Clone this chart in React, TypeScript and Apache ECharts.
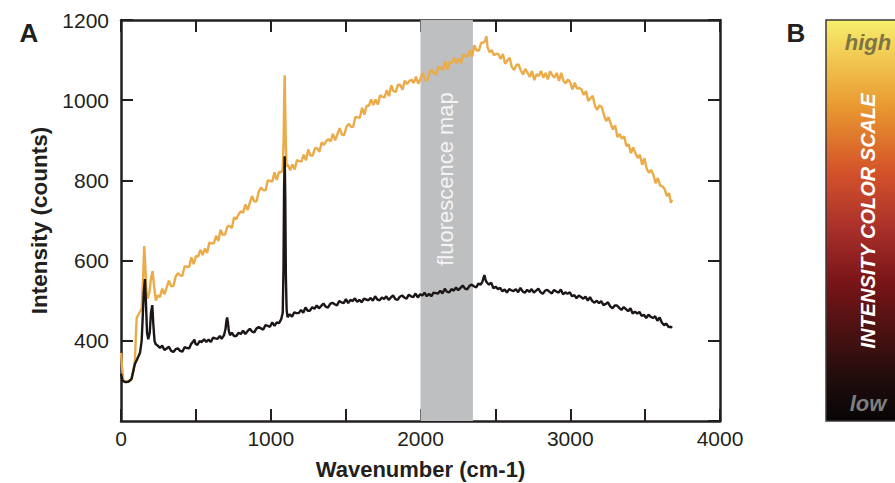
import React, { useEffect, useRef } from "react";
import * as echarts from "echarts";

// Spectrum with fluorescence background (orange) — [wavenumber cm-1, counts]
const orangeSpectrum: [number, number][] = [
  [0, 370], [8, 330], [15, 302], [30, 298], [50, 299], [70, 302], [82, 322], [93, 352], [100, 420], [105, 458],
  [120, 468], [138, 480], [148, 560], [155, 636], [162, 590], [170, 520], [178, 505], [190, 522], [200, 555], [211, 574],
  [220, 540], [233, 500],
  [245, 513], [260, 509], [275, 530], [290, 516], [305, 533], [320, 550], [335, 536], [350, 537], [365, 560], [380, 569],
  [395, 563], [410, 562], [425, 586], [440, 585], [455, 584], [470, 608], [485, 591], [500, 611], [515, 610], [530, 627],
  [545, 614], [560, 630], [575, 619], [590, 645], [605, 643], [620, 643], [635, 662], [650, 649], [665, 677], [680, 664],
  [695, 665], [710, 685], [725, 687], [740, 681], [755, 708], [770, 703], [785, 715], [800, 723], [815, 719], [830, 740],
  [845, 726], [860, 744], [875, 761], [890, 747], [905, 748], [920, 772], [935, 782], [950, 776], [965, 775], [980, 800],
  [995, 799], [1010, 797], [1025, 820], [1040, 801], [1055, 821], [1070, 820], [1080, 828],
  [1086, 900], [1090, 1010], [1093, 1062], [1096, 1000], [1100, 900], [1105, 835],
  [1115, 839], [1130, 825], [1145, 840], [1160, 827], [1175, 851], [1190, 848], [1205, 847], [1220, 864], [1235, 850], [1250, 877],
  [1265, 862], [1280, 862], [1295, 880], [1310, 880], [1325, 871], [1340, 895], [1355, 888], [1370, 898], [1385, 903], [1400, 897],
  [1415, 916], [1430, 900], [1445, 915], [1460, 930], [1475, 914], [1490, 913], [1505, 933], [1520, 941], [1535, 934], [1550, 933],
  [1565, 958], [1580, 957], [1595, 956], [1610, 981], [1625, 964], [1640, 986], [1655, 986], [1670, 1002], [1685, 988], [1700, 1002],
  [1715, 989], [1730, 1012], [1745, 1009], [1760, 1007], [1775, 1025], [1790, 1010], [1805, 1037], [1820, 1022], [1835, 1021], [1850, 1039],
  [1865, 1038], [1880, 1026], [1895, 1049], [1910, 1040], [1925, 1048], [1940, 1051], [1955, 1043], [1970, 1059], [1985, 1041], [2000, 1054],
  [2015, 1068], [2030, 1051], [2045, 1049], [2060, 1069], [2075, 1076], [2090, 1067], [2105, 1063], [2120, 1084], [2135, 1080], [2150, 1076],
  [2165, 1097], [2180, 1077], [2195, 1095], [2210, 1093], [2225, 1106], [2240, 1091], [2255, 1105], [2270, 1092], [2285, 1114], [2300, 1110],
  [2315, 1108], [2330, 1124], [2345, 1109], [2360, 1137], [2375, 1124], [2390, 1124], [2405, 1143], [2420, 1144], [2432, 1148], [2440, 1160],
  [2448, 1132], [2460, 1120], [2475, 1125], [2490, 1112], [2505, 1116], [2520, 1115], [2535, 1103], [2550, 1115], [2565, 1091], [2580, 1099],
  [2595, 1106], [2610, 1083], [2625, 1075], [2640, 1088], [2655, 1089], [2670, 1074], [2685, 1064], [2700, 1078], [2715, 1068], [2730, 1058],
  [2745, 1073], [2760, 1050], [2775, 1065], [2790, 1060], [2805, 1073], [2820, 1056], [2835, 1068], [2850, 1052], [2865, 1072], [2880, 1063],
  [2895, 1056], [2910, 1068], [2925, 1048], [2940, 1068], [2955, 1048], [2970, 1042], [2985, 1052], [3000, 1044], [3015, 1027], [3030, 1044],
  [3045, 1029], [3060, 1030], [3075, 1027], [3090, 1013], [3105, 1023], [3120, 998], [3135, 1005], [3150, 1011], [3165, 986], [3180, 976],
  [3195, 987], [3210, 983], [3225, 963], [3240, 948], [3255, 958], [3270, 942], [3285, 927], [3300, 937], [3315, 908], [3330, 916],
  [3345, 904], [3360, 910], [3375, 886], [3390, 890], [3405, 868], [3420, 882], [3435, 868], [3450, 856], [3465, 864], [3480, 839],
  [3495, 855], [3510, 830], [3525, 819], [3540, 826], [3555, 814], [3570, 793], [3585, 806], [3600, 787], [3615, 785], [3630, 779],
  [3645, 761], [3660, 768], [3672, 744], [3680, 752],
];

// Spectrum without fluorescence (black) — [wavenumber cm-1, counts]
const blackSpectrum: [number, number][] = [
  [0, 318], [10, 300], [30, 297], [50, 298], [70, 305], [85, 330], [93, 342], [110, 356], [127, 370], [138, 400],
  [144, 450], [152, 520], [160, 554], [166, 500], [174, 420], [182, 404], [192, 420], [200, 470], [209, 489], [216, 440],
  [224, 400], [231, 392],
  [245, 388], [260, 382], [275, 388], [290, 377], [305, 381], [320, 385], [335, 375], [350, 372], [365, 379], [380, 381],
  [395, 375], [410, 373], [425, 384], [440, 382], [455, 381], [470, 393], [482, 398], [490, 403], [498, 392], [510, 390],
  [525, 399], [540, 397], [555, 404], [570, 397], [585, 403], [600, 397], [615, 408], [630, 406], [645, 405], [660, 412],
  [672, 405], [688, 414], [698, 430], [704, 450], [709, 458], [714, 445], [720, 425], [728, 414], [740, 420], [755, 412],
  [770, 412], [785, 420], [800, 417], [815, 425], [830, 417], [845, 424], [860, 430], [875, 423], [890, 421], [905, 431],
  [920, 434], [935, 431], [950, 428], [965, 439], [980, 437], [995, 435], [1010, 446], [1025, 437], [1040, 446], [1055, 444],
  [1070, 454], [1080, 470], [1085, 580], [1089, 780], [1093, 860], [1097, 760], [1101, 560], [1106, 478],
  [1112, 459], [1127, 466], [1142, 460], [1157, 471], [1172, 469], [1187, 469], [1202, 477], [1217, 470], [1232, 483], [1247, 475],
  [1262, 475], [1277, 484], [1292, 480], [1307, 488], [1322, 481], [1337, 487], [1352, 493], [1367, 485], [1382, 483], [1397, 492],
  [1412, 495], [1427, 491], [1442, 488], [1457, 499], [1472, 496], [1487, 494], [1502, 504], [1517, 494], [1532, 502], [1547, 499],
  [1562, 506], [1577, 497], [1592, 502], [1607, 496], [1622, 505], [1637, 503], [1652, 501], [1667, 507], [1682, 500], [1697, 511],
  [1712, 503], [1727, 501], [1742, 508], [1757, 504], [1772, 511], [1787, 502], [1802, 508], [1817, 513], [1832, 504], [1847, 502],
  [1862, 510], [1877, 513], [1892, 508], [1907, 505], [1922, 515], [1937, 511], [1952, 509], [1967, 518], [1982, 508], [1997, 516],
  [2012, 513], [2027, 520], [2042, 511], [2057, 517], [2072, 511], [2087, 520], [2102, 519], [2117, 518], [2132, 525], [2147, 518],
  [2162, 530], [2177, 522], [2192, 521], [2207, 529], [2222, 525], [2237, 533], [2252, 526], [2267, 532], [2282, 538], [2297, 530],
  [2312, 528], [2327, 537], [2342, 540], [2357, 536], [2372, 533], [2387, 543], [2400, 540], [2412, 546], [2420, 556], [2427, 564],
  [2434, 552], [2442, 546], [2457, 540], [2472, 545], [2487, 531], [2502, 535], [2517, 529], [2532, 532], [2547, 523], [2562, 528],
  [2577, 520], [2592, 529], [2607, 526], [2622, 524], [2637, 529], [2652, 521], [2667, 532], [2682, 523], [2697, 520], [2712, 527],
  [2727, 522], [2742, 529], [2757, 520], [2772, 525], [2787, 530], [2802, 521], [2817, 517], [2832, 525], [2847, 527], [2862, 522],
  [2877, 518], [2892, 527], [2907, 523], [2922, 520], [2937, 528], [2952, 516], [2967, 521], [2982, 517], [2997, 521], [3012, 511],
  [3027, 514], [3042, 506], [3057, 513], [3072, 509], [3087, 505], [3102, 510], [3117, 500], [3132, 509], [3147, 499], [3162, 495],
  [3177, 500], [3192, 494], [3207, 499], [3222, 489], [3237, 492], [3252, 496], [3267, 486], [3282, 481], [3297, 488], [3312, 488],
  [3327, 482], [3342, 477], [3357, 484], [3372, 479], [3387, 474], [3402, 481], [3417, 468], [3432, 473], [3447, 468], [3462, 472],
  [3477, 462], [3492, 465], [3507, 457], [3522, 465], [3537, 460], [3552, 457], [3567, 461], [3582, 450], [3597, 458], [3612, 445],
  [3627, 439], [3642, 443], [3657, 434], [3672, 435], [3680, 432],
];

// Shaded region ("fluorescence map") in wavenumber
const fluorescenceBand: [number, number] = [2000, 2350];

// Axis ranges / ticks
const xRange = { min: 0, max: 4000, tickStep: 500, labelStep: 1000 };
const yRange = { min: 200, max: 1200, tickStep: 200 };

// Colour-scale stops (top = high, bottom = low)
const colorScaleStops: [number, string][] = [
  [0, "#f6ef6c"],
  [0.1, "#f1c650"],
  [0.22, "#e8972f"],
  [0.38, "#d4522a"],
  [0.52, "#a9302a"],
  [0.65, "#7b1519"],
  [0.78, "#4a1111"],
  [0.9, "#1f0c0c"],
  [1, "#070505"],
];

const FRAME = "#231f20";
const FONT = "'Liberation Sans', Arial, Helvetica, sans-serif";

export default function App() {
  const ref = useRef<HTMLDivElement>(null);

  useEffect(() => {
    document.body.style.margin = "0";
    if (!ref.current) return;
    const chart = echarts.init(ref.current, undefined, { renderer: "svg" });

    const axisLine = { show: true, onZero: false, lineStyle: { color: FRAME, width: 2.5 } };
    const axisTick = { show: true, inside: true, length: 12, lineStyle: { color: FRAME, width: 2 } };

    const option: any = {
      animation: false,
      backgroundColor: "#ffffff",
      textStyle: { fontFamily: FONT },
      grid: {
        left: 121,
        right: 175,
        top: 20,
        bottom: 62,
        containLabel: false,
        outerBoundsMode: "none",
      },
      xAxis: [
        {
          type: "value",
          position: "bottom",
          min: xRange.min,
          max: xRange.max,
          interval: xRange.tickStep,
          axisLine,
          axisTick,
          splitLine: { show: false },
          axisLabel: {
            color: "#231f20",
            fontSize: 21,
            fontFamily: FONT,
            margin: 7,
            formatter: (v: number) => (v % xRange.labelStep === 0 ? String(v) : ""),
          },
          name: "Wavenumber (cm-1)",
          nameLocation: "middle",
          nameGap: 37,
          nameTextStyle: { fontSize: 22, fontWeight: "bold", color: "#231f20", fontFamily: FONT },
        },
        {
          type: "value",
          position: "top",
          min: xRange.min,
          max: xRange.max,
          interval: xRange.tickStep,
          axisLine,
          axisTick,
          splitLine: { show: false },
          axisLabel: { show: false },
        },
      ],
      yAxis: [
        {
          type: "value",
          position: "left",
          min: yRange.min,
          max: yRange.max,
          interval: yRange.tickStep,
          axisLine,
          axisTick,
          splitLine: { show: false },
          axisLabel: {
            color: "#231f20",
            fontSize: 21,
            fontFamily: FONT,
            margin: 12,
            showMinLabel: false,
            formatter: (v: number) => String(v),
          },
          name: "Intensity (counts)",
          nameLocation: "middle",
          nameGap: 64,
          nameTextStyle: { fontSize: 22.5, fontWeight: "bold", color: "#231f20", fontFamily: FONT },
        },
        {
          type: "value",
          position: "right",
          min: yRange.min,
          max: yRange.max,
          interval: yRange.tickStep,
          axisLine,
          axisTick,
          splitLine: { show: false },
          axisLabel: { show: false },
        },
      ],
      series: [
        {
          type: "line",
          name: "fluorescence",
          data: orangeSpectrum,
          showSymbol: false,
          symbol: "none",
          z: 3,
          lineStyle: { color: "#eaab48", width: 2.4 },
          markArea: {
            silent: true,
            label: { show: false },
            itemStyle: { color: "#bebfc1", opacity: 1 },
            z: 1,
            data: [[{ xAxis: fluorescenceBand[0] }, { xAxis: fluorescenceBand[1] }]],
          },
        },
        {
          type: "line",
          name: "raman",
          data: blackSpectrum,
          showSymbol: false,
          symbol: "none",
          z: 4,
          lineStyle: { color: "#1c1616", width: 2.4 },
        },
      ],
      graphic: [
        {
          type: "text",
          x: 445,
          y: 179,
          rotation: Math.PI / 2,
          z: 5,
          style: {
            text: "fluorescence map",
            fill: "#f4f4f4",
            font: `22px ${FONT}`,
            textAlign: "center",
            textVerticalAlign: "middle",
          },
        },
        {
          type: "text",
          x: 29,
          y: 33,
          style: {
            text: "A",
            fill: "#231f20",
            font: `bold 26px ${FONT}`,
            textAlign: "center",
            textVerticalAlign: "middle",
          },
        },
        {
          type: "text",
          x: 796,
          y: 33,
          style: {
            text: "B",
            fill: "#231f20",
            font: `bold 26px ${FONT}`,
            textAlign: "center",
            textVerticalAlign: "middle",
          },
        },
        {
          type: "rect",
          shape: { x: 826, y: 20, width: 90, height: 401 },
          style: {
            fill: new echarts.graphic.LinearGradient(
              0, 0, 0, 1,
              colorScaleStops.map(([offset, color]) => ({ offset, color }))
            ),
            stroke: "#3a3a3a",
            lineWidth: 1.5,
          },
        },
        {
          type: "text",
          x: 868,
          y: 42,
          z: 10,
          style: {
            text: "high",
            fill: "#7d7446",
            font: `italic bold 22px ${FONT}`,
            textAlign: "center",
            textVerticalAlign: "middle",
          },
        },
        {
          type: "text",
          x: 868,
          y: 403,
          z: 10,
          style: {
            text: "low",
            fill: "#7e7e7e",
            font: `italic bold 22px ${FONT}`,
            textAlign: "center",
            textVerticalAlign: "middle",
          },
        },
        {
          type: "text",
          x: 868,
          y: 221,
          z: 10,
          rotation: Math.PI / 2,
          style: {
            text: "INTENSITY COLOR SCALE",
            fill: "#ffffff",
            font: `italic bold 20px ${FONT}`,
            textAlign: "center",
            textVerticalAlign: "middle",
          },
        },
      ],
    };

    chart.setOption(option);
    return () => chart.dispose();
  }, []);

  return <div ref={ref} style={{ width: 895, height: 483 }} />;
}
